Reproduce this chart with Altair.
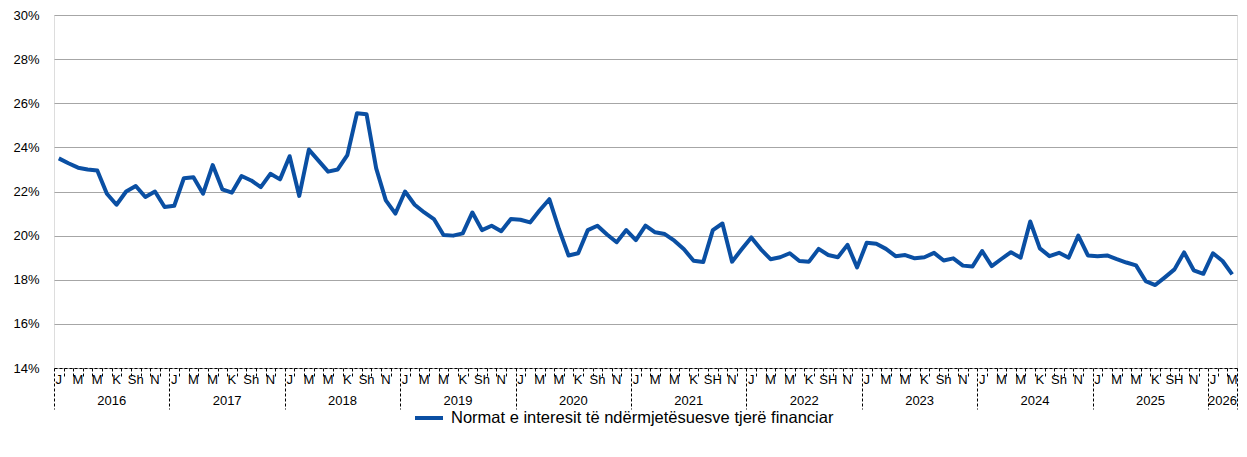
import altair as alt
import pandas as pd

series_name = "Normat e interesit të ndërmjetësuesve tjerë financiar"

years = [2016, 2017, 2018, 2019, 2020, 2021, 2022, 2023, 2024, 2025, 2026]
months_in_year = [12, 12, 12, 12, 12, 12, 12, 12, 12, 12, 3]

rates = [
    23.5, 23.28, 23.08, 23.0, 22.95, 21.9, 21.4, 22.0, 22.25, 21.75, 22.0, 21.3,
    21.35, 22.6, 22.65, 21.9, 23.2, 22.1, 21.95, 22.7, 22.5, 22.2, 22.8, 22.55,
    23.6, 21.8, 23.9, 23.4, 22.9, 23.0, 23.65, 25.55, 25.5, 23.05, 21.6, 21.0,
    22.0, 21.4, 21.05, 20.75, 20.03, 20.0, 20.1, 21.05, 20.25, 20.45, 20.2, 20.75,
    20.72, 20.6, 21.15, 21.65, 20.3, 19.1, 19.2, 20.25, 20.45, 20.05, 19.7, 20.25,
    19.8, 20.45, 20.15, 20.07, 19.77, 19.38, 18.86, 18.8, 20.25, 20.55, 18.82, 19.38,
    19.92, 19.38, 18.93, 19.02, 19.2, 18.85, 18.82, 19.4, 19.12, 19.02, 19.58, 18.56,
    19.68, 19.63, 19.4, 19.07, 19.12, 18.97, 19.02, 19.22, 18.87, 18.97, 18.64, 18.6,
    19.3, 18.62, 18.94, 19.25, 19.0, 20.64, 19.42, 19.07, 19.22, 19.0, 20.0, 19.1,
    19.07, 19.1, 18.93, 18.78, 18.65, 17.94, 17.76, 18.11, 18.47, 19.24, 18.43, 18.27,
    19.2, 18.85, 18.24,
]

label_month_index = [0, 2, 4, 6, 8, 10]
labels_regular = ["J", "M", "M", "K", "Sh", "N"]
labels_upper = ["J", "M", "M", "K", "SH", "N"]
upper_years = [2021, 2022, 2025]

y_ticks = [14, 16, 18, 20, 22, 24, 26, 28, 30]

W, H = 1183, 353
FONT = "Liberation Sans"
LINE_COLOR = "#0A4FA3"

# ---- build tables ----
total_months = sum(months_in_year)
line_df = pd.DataFrame({
    "x": [i + 0.5 for i in range(len(rates))],
    "rate": rates,
    "series": [series_name] * len(rates),
})

mrows, yrows, year_bounds = [], [], []
start = 0
for yr, n in zip(years, months_in_year):
    labs = labels_upper if yr in upper_years else labels_regular
    for mi, lab in zip(label_month_index, labs):
        if mi < n:
            mrows.append({"x": start + mi + 0.5, "t": lab})
    yrows.append({"x": start + n / 2, "t": str(yr)})
    year_bounds.append(start)
    start += n
year_bounds.append(start)
month_df = pd.DataFrame(mrows)
year_df = pd.DataFrame(yrows)

long_test = " || ".join(f"datum.value === {b}" for b in year_bounds)

x_scale = alt.Scale(domain=[0, total_months], nice=False, zero=False)
x_axis = alt.Axis(
    values=list(range(0, total_months + 1)),
    labels=False,
    title=None,
    grid=False,
    domainColor="#000000",
    domainDash=[3, 2],
    domainWidth=1,
    tickColor="#000000",
    tickDash=[3, 2],
    tickWidth=1,
    tickSize={"condition": {"test": long_test, "value": 41}, "value": 9},
)


def xenc():
    return alt.X("x:Q", scale=x_scale, axis=x_axis, title=None)


line = alt.Chart(line_df).mark_line(strokeWidth=4, strokeJoin="round").encode(
    x=xenc(),
    y=alt.Y(
        "rate:Q",
        scale=alt.Scale(domain=[14, 30], nice=False, zero=False),
        axis=alt.Axis(
            values=y_ticks,
            labelExpr="datum.value + '%'",
            title=None,
            domain=False,
            ticks=False,
            grid=True,
            gridColor="#A6A6A6",
            gridWidth=1,
            labelFont=FONT,
            labelFontSize=13,
            labelColor="#000000",
            labelPadding=15,
        ),
    ),
    color=alt.Color(
        "series:N",
        scale=alt.Scale(domain=[series_name], range=[LINE_COLOR]),
        legend=alt.Legend(
            orient="none",
            legendX=359,
            legendY=387,
            title=None,
            symbolType="stroke",
            symbolStrokeWidth=4,
            symbolSize=784,
            labelFont=FONT,
            labelFontSize=16.5,
            labelLimit=0,
            labelColor="#000000",
            labelOffset=6,
            padding=0,
        ),
    ),
)

month_text = alt.Chart(month_df).mark_text(
    font=FONT, fontSize=13, color="#000000", align="center", baseline="middle"
).encode(x=xenc(), y=alt.value(H + 12), text="t:N")

year_text = alt.Chart(year_df).mark_text(
    font=FONT, fontSize=13, color="#000000", align="center", baseline="middle"
).encode(x=xenc(), y=alt.value(H + 33), text="t:N")

chart = alt.layer(line, month_text, year_text).properties(
    width=W,
    height=H,
    padding={"left": 4, "top": 1, "right": 0, "bottom": 0},
).configure_view(stroke=None).configure(background="#ffffff")

chart.save("out.html", embed_options={"renderer": "svg", "actions": False})
